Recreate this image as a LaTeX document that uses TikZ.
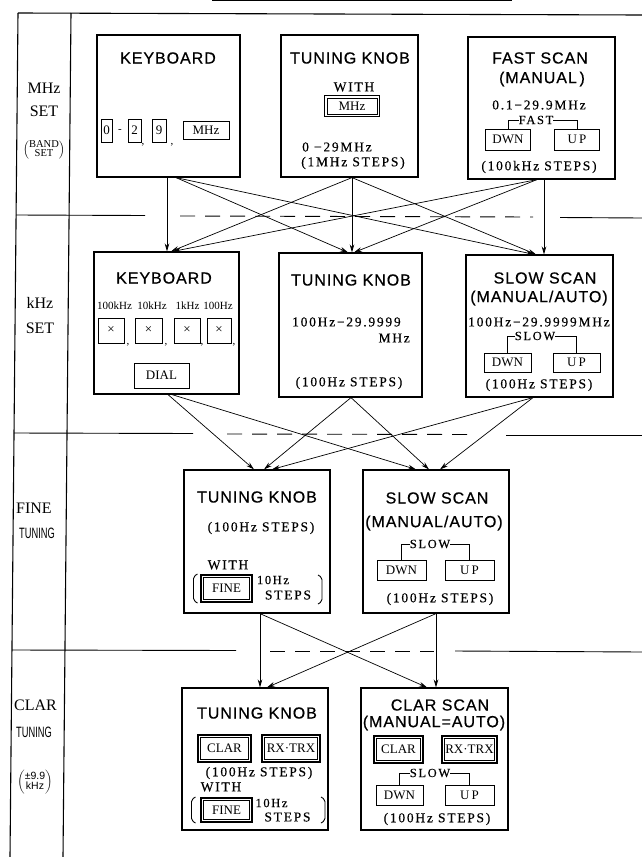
\documentclass[tikz,border=0pt]{standalone}
\usepackage{fontspec}
\usepackage{graphicx}
\setmainfont{Liberation Serif}
\newfontfamily\bxs{Liberation Serif}[LetterSpace=13,FakeBold=0.3]
\newfontfamily\ttlf{Liberation Sans}[LetterSpace=6,FakeBold=0.6]
\newfontfamily\sansf{Liberation Sans}
\usetikzlibrary{arrows.meta}
\newcommand{\bt}{\fontsize{13.5}{15}\bxs}
\newcommand{\bts}{\fontsize{12.5}{14}\bxs}
\newcommand{\tf}{\fontsize{16}{18}\ttlf}
\newcommand{\lf}{\fontsize{16}{18}\selectfont}
\newcommand{\kf}{\fontsize{13}{15}\selectfont}
\newcommand{\pstack}[1]{$\left(\vcenter{\hbox{\renewcommand\arraystretch{0.8}\begin{tabular}{@{}c@{}}#1\end{tabular}}}\right)$}
\begin{document}
\begin{tikzpicture}[x=1pt,y=-1pt,
  box/.style={draw, line width=1.2pt, inner sep=0pt},
  txt/.style={inner sep=0pt, font=\bt},
  txs/.style={inner sep=0pt, font=\bts},
  ttl/.style={inner sep=0pt, font=\tf},
  lbl/.style={inner sep=0pt, font=\lf},
  lcond/.style={inner sep=0pt, font=\fontsize{15}{16}\sansf},
  lsm/.style={inner sep=0pt, font=\fontsize{10.5}{11}\selectfont},
  sml/.style={inner sep=0pt, font=\fontsize{11}{12}\selectfont},
  key/.style={draw, line width=0.8pt, inner sep=0pt, font=\kf},
  dkey/.style={draw, line width=1.8pt, inner sep=0pt, font=\kf,
    path picture={\draw[line width=0.6pt] ([shift={(2.6pt,-2.6pt)}]path picture bounding box.north west) rectangle ([shift={(-2.6pt,2.6pt)}]path picture bounding box.south east);}},
  arr/.style={line width=0.7pt, -{Stealth[length=8pt,width=4.6pt]}},
  brk/.style={line width=0.8pt},
  pbr/.style={line width=0.9pt, rounded corners=2pt},
  frame/.style={line width=1.1pt},
  divl/.style={line width=0.9pt},
  divd/.style={line width=0.9pt, dash pattern=on 15pt off 10pt}
]
\useasboundingbox (0,0) rectangle (642,857);
% ---------- frame ----------
\draw[line width=0.8pt] (212,0.8) -- (512,0.8);
\draw[frame] (18,13) -- (642,15);
\draw[frame] (18,13) -- (10,857);
\draw[frame] (71,13) -- (63,857);
% dividers
\draw[divl] (16,215) -- (145,215.5);
\draw[divd] (180,216) -- (533,217);
\draw[divl] (560,217.5) -- (642,218);
\draw[divl] (14,433) -- (193,433.5);
\draw[divd] (227,434) -- (469,434.5);
\draw[divl] (506,435) -- (642,435);
\draw[divl] (12,650) -- (236,650.5);
\draw[divd] (270,651) -- (434,651);
\draw[divl] (455,651) -- (642,652);
% ---------- left labels ----------
\node[lbl] (lmhz) at (44,88) {MHz};
\node[lbl] (lset1) at (44,111) {SET};
\node[lsm] (lband) at (44,150) {\pstack{BAND\\SET}};
\node[lbl] (lkhz) at (40,303) {kHz};
\node[lbl] (lset2) at (40,328) {SET};
\node[lbl, anchor=west] (lfine) at (16,508) {FINE};
\node[lcond, anchor=west] (ltun1) at (19,533) {\scalebox{0.62}[1]{TUNING}};
\node[lbl, anchor=west] (lclar) at (14,705) {CLAR};
\node[lcond, anchor=west] (ltun2) at (16,732) {\scalebox{0.62}[1]{TUNING}};
\node[lsm] (lpm) at (35,782) {\pstack{\sansf ±9.9\\\sansf kHz}};
% ---------- row 1 ----------
\node[box, minimum width=143pt, minimum height=142pt] (kb1) at (168.5,106) {};
\node[box, minimum width=137pt, minimum height=142pt] (tk1) at (349.5,106) {};
\node[box, minimum width=147pt, minimum height=142pt] (fs1) at (541.5,108) {};
\node[ttl] (kb1t) at (168,58) {KEYBOARD};
\node[key, minimum width=11pt, minimum height=23pt] (k0) at (106.5,130.5) {0};
\node[sml] (kdash) at (120,130.5) {-};
\node[key, minimum width=13pt, minimum height=23pt] (k2) at (134.5,130.5) {2};
\node[key, minimum width=14pt, minimum height=23pt] (k9) at (159,130.5) {9};
\node[key, minimum width=46pt, minimum height=18pt] (kmhz) at (206,130.5) {MHz};
\node[sml] (kc1) at (143,145) {,};
\node[sml] (kc2) at (172,145) {,};
\node[ttl] (tk1t) at (350,58) {TUNING KNOB};
\node[txt] (tk1w) at (354,87) {WITH};
\node[dkey, minimum width=55pt, minimum height=21pt] (tk1m) at (352,106) {MHz};
\node[txt, anchor=west] (tk1r) at (302,147) {0 −29MHz};
\node[txt] (tk1s) at (353,163) {(1MHz STEPS)};
\node[ttl] (fs1t) at (540,58) {FAST SCAN};
\node[ttl] (fs1m) at (542,79) {(MANUAL\,)};
\node[txt] (fs1r) at (539,105) {0.1−29.9MHz};
\node[txs] (fs1l) at (536,120) {FAST};
\node[key, minimum width=45pt, minimum height=21pt] (fs1d) at (508,139.5) {DWN};
\node[key, minimum width=45pt, minimum height=21pt] (fs1u) at (577,139.5) {U\,P};
\draw[brk] (fs1d.north) |- (fs1l.west);
\draw[brk] (fs1l.east) -| (fs1u.north);
\node[txt] (fs1s) at (539,167) {(100kHz STEPS)};
% ---------- row 2 ----------
\node[box, minimum width=145pt, minimum height=142pt] (kb2) at (166.5,323) {};
\node[box, minimum width=143pt, minimum height=144pt] (tk2) at (350.5,325) {};
\node[box, minimum width=147pt, minimum height=142pt] (ss2) at (539.5,326) {};
\node[ttl] (kb2t) at (164,278) {KEYBOARD};
\node[sml] (kb2a) at (114.5,306) {100kHz};
\node[sml] (kb2b) at (152,306) {10kHz};
\node[sml] (kb2c) at (187.5,306) {1kHz};
\node[sml] (kb2d) at (218,306) {100Hz};
\node[key, minimum width=26pt, minimum height=25pt] (kx1) at (111,330.5) {×};
\node[key, minimum width=27pt, minimum height=25pt] (kx2) at (148.5,330.5) {×};
\node[key, minimum width=26pt, minimum height=25pt] (kx3) at (187,330.5) {×};
\node[key, minimum width=24pt, minimum height=25pt] (kx4) at (219,330.5) {×};
\node[sml] (kc3) at (128,345) {,};
\node[sml] (kc4) at (166,345) {,};
\node[sml] (kc5) at (202,345) {,};
\node[sml] (kc6) at (234,345) {,};
\node[key, minimum width=55pt, minimum height=25pt] (kdial) at (161.5,375.5) {DIAL};
\node[ttl] (tk2t) at (351,280) {TUNING KNOB};
\node[txt, anchor=west] (tk2r) at (292,322) {100Hz−29.9999};
\node[txt, anchor=east] (tk2m) at (410,338) {MHz};
\node[txt] (tk2s) at (349,383) {(100Hz STEPS)};
\node[ttl] (ss2t) at (545,278) {SLOW SCAN};
\node[ttl] (ss2m) at (539,298) {(MANUAL/AUTO)};
\node[txt] (ss2r) at (539,322) {100Hz−29.9999MHz};
\node[txs] (ss2l) at (535,336) {SLOW};
\node[key, minimum width=47pt, minimum height=19pt] (ss2d) at (507.5,362.5) {DWN};
\node[key, minimum width=47pt, minimum height=19pt] (ss2u) at (576.5,362.5) {U\,P};
\draw[brk] (ss2d.north) |- (ss2l.west);
\draw[brk] (ss2l.east) -| (ss2u.north);
\node[txt] (ss2s) at (539,385) {(100Hz STEPS)};
% ---------- row 3 ----------
\node[box, minimum width=146pt, minimum height=143pt] (tk3) at (257,541.5) {};
\node[box, minimum width=146pt, minimum height=143pt] (ss3) at (436,541.5) {};
\node[ttl] (tk3t) at (257,497) {TUNING KNOB};
\node[txt] (tk3s) at (261,528) {(100Hz STEPS)};
\node[txt] (tk3w) at (228,565) {WITH};
\node[dkey, minimum width=51pt, minimum height=27pt] (tk3f) at (226.5,588.5) {FINE};
\node[txs] (tk3a) at (273,580) {10Hz};
\node[txt] (tk3b) at (288,595) {STEPS};
\draw[pbr] (197.5,574) -- (193.5,576.5) -- (193.5,600.5) -- (197.5,603);
\draw[pbr] (318,575) -- (322,577.5) -- (322,601.5) -- (318,604);
\node[ttl] (ss3t) at (437,498) {SLOW SCAN};
\node[ttl] (ss3m) at (434,523) {(MANUAL/AUTO)};
\node[txs] (ss3l) at (430,544) {SLOW};
\node[key, minimum width=49pt, minimum height=20pt] (ss3d) at (401.5,570) {DWN};
\node[key, minimum width=49pt, minimum height=20pt] (ss3u) at (469.5,570) {U\,P};
\draw[brk] (ss3d.north) |- (ss3l.west);
\draw[brk] (ss3l.east) -| (ss3u.north);
\node[txt] (ss3s) at (440,599) {(100Hz STEPS)};
% ---------- row 4 ----------
\node[box, minimum width=146pt, minimum height=142pt] (tk4) at (255,759) {};
\node[box, minimum width=147pt, minimum height=142pt] (cs4) at (434.5,759) {};
\node[ttl] (tk4t) at (257,713) {TUNING KNOB};
\node[dkey, minimum width=53pt, minimum height=27pt] (tk4c) at (224.5,748.5) {CLAR};
\node[dkey, minimum width=58pt, minimum height=27pt] (tk4x) at (291,748.5) {RX·TRX};
\node[txt] (tk4s) at (259,773) {(100Hz STEPS)};
\node[txt] (tk4w) at (221,787) {WITH};
\node[dkey, minimum width=51pt, minimum height=24pt] (tk4f) at (226.5,810) {FINE};
\node[txs] (tk4a) at (271.5,803) {10Hz};
\node[txt] (tk4b) at (287.5,817) {STEPS};
\draw[pbr] (195.5,797) -- (191.5,799.5) -- (191.5,820.5) -- (195.5,823);
\draw[pbr] (321,797) -- (325,799.5) -- (325,820.5) -- (321,823);
\node[ttl] (cs4t) at (440,705) {CLAR SCAN};
\node[ttl] (cs4m) at (434,723) {(MANUAL=AUTO)};
\node[dkey, minimum width=49pt, minimum height=27pt] (cs4c) at (398.5,749.5) {CLAR};
\node[dkey, minimum width=55pt, minimum height=27pt] (cs4x) at (469.5,749.5) {RX·TRX};
\node[txs] (cs4l) at (430,773) {SLOW};
\node[key, minimum width=47pt, minimum height=20pt] (cs4d) at (399.5,795) {DWN};
\node[key, minimum width=49pt, minimum height=20pt] (cs4u) at (469.5,795) {U\,P};
\draw[brk] (cs4d.north) |- (cs4l.west);
\draw[brk] (cs4l.east) -| (cs4u.north);
\node[txt] (cs4s) at (437,819) {(100Hz STEPS)};
% ---------- arrows row1 -> row2 ----------
\draw[arr] ([xshift=-1.5pt]kb1.south) -- ([xshift=-1.5pt]kb1.south |- kb2.north);
\draw[arr] ([xshift=7.5pt]kb1.south) -- ([xshift=-2.5pt]tk2.north);
\draw[arr] ([xshift=7.5pt]kb1.south) -- ([xshift=-5.5pt]ss2.north);
\draw[arr] ([xshift=2.5pt]tk1.south) -- ([xshift=4.5pt]kb2.north);
\draw[arr] ([xshift=2.5pt]tk1.south) -- ([xshift=2.5pt]tk1.south |- tk2.north);
\draw[arr] ([xshift=2.5pt]tk1.south) -- ([xshift=-3.5pt]ss2.north);
\draw[arr] ([xshift=-4.5pt]fs1.south) -- ([xshift=6.5pt]kb2.north);
\draw[arr] ([xshift=-4.5pt]fs1.south) -- ([xshift=3.5pt]tk2.north);
\draw[arr] ([xshift=2.5pt]fs1.south) -- ([xshift=2.5pt]fs1.south |- ss2.north);
% ---------- arrows row2 -> row3 ----------
\draw[arr] ([xshift=1.5pt]kb2.south) -- ([xshift=-3pt]tk3.north);
\draw[arr] ([xshift=5.5pt]kb2.south) -- ([xshift=-20pt]ss3.north);
\draw[arr] ([xshift=0.5pt]tk2.south) -- ([xshift=7pt]tk3.north);
\draw[arr] ([xshift=0.5pt]tk2.south) -- ([xshift=-7pt]ss3.north);
\draw[arr] ([xshift=-6.5pt]ss2.south) -- ([xshift=15pt]tk3.north);
\draw[arr] ([xshift=-6.5pt]ss2.south) -- ([xshift=4pt]ss3.north);
% ---------- arrows row3 -> row4 ----------
\draw[arr] ([xshift=3pt]tk3.south) -- ([xshift=3pt]tk3.south |- tk4.north);
\draw[arr] ([xshift=3pt]tk3.south) -- ([xshift=-7.5pt]cs4.north);
\draw[arr] (ss3.south) -- ([xshift=12pt]tk4.north);
\draw[arr] (ss3.south) -- (ss3.south |- cs4.north);
\end{tikzpicture}
\end{document}
